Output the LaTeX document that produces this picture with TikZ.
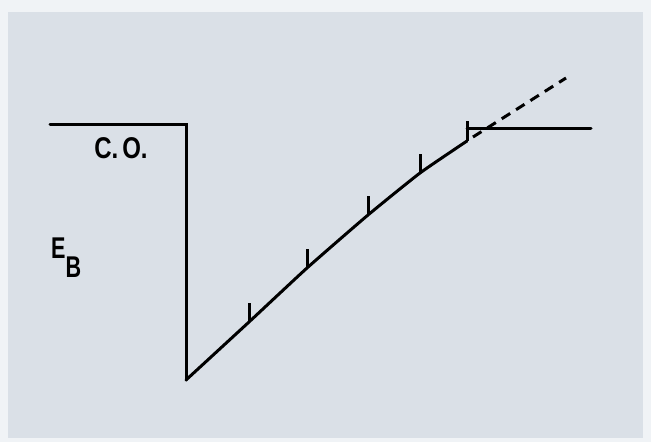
\documentclass[tikz,border=0pt]{standalone}
\usepackage{fontspec}
\setmainfont{Liberation Sans}
\begin{document}
\begin{tikzpicture}[x=1pt,y=-1pt,
  band/.style={line width=3pt,line cap=round,line join=miter},
  tickmark/.style={line width=3pt},
  lbl/.style={inner sep=0pt,font=\fontsize{30}{30}\selectfont}]
\useasboundingbox (0,0) rectangle (651,442);
\fill[color={rgb,255:red,240;green,243;blue,246}] (0,0) rectangle (651,442);
\fill[color={rgb,255:red,218;green,224;blue,231}] (8,12) rectangle (643,438);
% coordinates
\coordinate (tl) at (50,124);
\coordinate (corner) at (186,124);
\coordinate (bottom) at (186,380);
\coordinate (p1) at (249,322);
\coordinate (p2) at (307,268);
\coordinate (p3) at (368,215);
\coordinate (p4) at (420,173);
\coordinate (p5) at (467,141);
\coordinate (rs) at (467,128);
\coordinate (re) at (591,128);
\coordinate (ds) at (473,137);
\coordinate (de) at (566,78);
% conduction band offset
\draw[band] (tl) -- (corner) -- (bottom);
\draw[band] plot[smooth,tension=0.3] coordinates {(186,380) (249,322) (307,268) (368,215) (420,173) (467,141)};
\draw[band] (rs) -- (re);
\draw[band,line cap=butt,dash pattern=on 10pt off 7pt] (ds) -- (de);
% ticks
\foreach \p in {p1,p2,p3,p4}
  \draw[tickmark] (\p) -- ++(0,-19);
\draw[tickmark] (p5) -- ++(0,-20);
% labels
\node[lbl] (co) at (121,148) {\scalebox{0.8}[1]{\bfseries C.\,O.}};
\node[lbl,anchor=base west] (eb) at (51,258) {\scalebox{0.72}[1]{\bfseries E}\raisebox{-19pt}{\scalebox{0.72}[1]{\bfseries B}}};
\end{tikzpicture}
\end{document}
